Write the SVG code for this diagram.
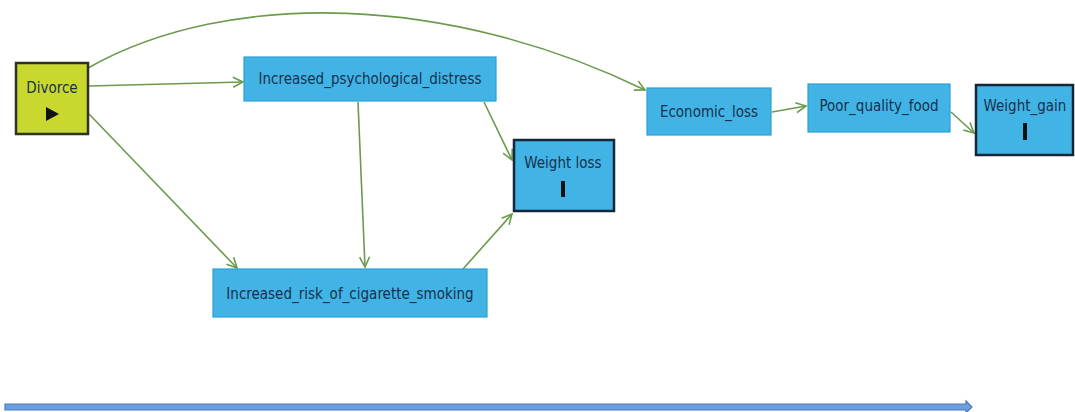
<svg xmlns="http://www.w3.org/2000/svg" width="1075" height="412" viewBox="0 0 1075 412">
  <style>
    .node { fill: #41b4e5; stroke: #2c9fd6; stroke-width: 1.2; }
    .outcome { fill: #41b4e5; stroke: #16263a; stroke-width: 2.5; }
    .exposure { fill: #c9d82f; stroke: #2c3320; stroke-width: 2.5; }
    .label { font-family: "DejaVu Sans Condensed", "DejaVu Sans", sans-serif; font-size: 15px; fill: #17304e; text-anchor: middle; }
    .edge { fill: none; stroke: #6b9a4e; stroke-width: 1.6; marker-end: url(#chev); }
  </style>
  <defs>
    <marker id="chev" viewBox="0 0 12 12" refX="11" refY="6" markerWidth="12" markerHeight="12" markerUnits="userSpaceOnUse" orient="auto">
      <path d="M1,1 L11,6 L1,11" fill="none" stroke="#6b9a4e" stroke-width="1.6"/>
    </marker>
  </defs>
  <rect width="1075" height="412" fill="#ffffff"/>

  <g id="connectors">
    <path class="edge" d="M88,68 C230,-12 450,-5 645,90"/>
    <path class="edge" d="M89,86 L243,82"/>
    <path class="edge" d="M89,114 L237,268"/>
    <path class="edge" d="M484,102 L512,160"/>
    <path class="edge" d="M358,102 L365,267"/>
    <path class="edge" d="M463,269 L512,214"/>
    <path class="edge" d="M772,112 L806,106"/>
    <path class="edge" d="M951,112 L974,133"/>
  </g>

  <g id="divorce">
    <rect class="exposure" x="16" y="63" width="72" height="71"/>
    <text class="label" x="52" y="93">Divorce</text>
    <path d="M46,107 L59,114 L46,121 Z" fill="#111"/>
  </g>

  <g id="psych-distress">
    <rect class="node" x="244" y="57" width="252" height="44"/>
    <text class="label" x="370" y="84">Increased_psychological_distress</text>
  </g>

  <g id="cigarette-smoking">
    <rect class="node" x="213" y="269" width="274" height="48"/>
    <text class="label" x="350" y="299">Increased_risk_of_cigarette_smoking</text>
  </g>

  <g id="weight-loss">
    <rect class="outcome" x="514" y="140" width="100" height="71"/>
    <text class="label" x="563" y="168">Weight loss</text>
    <rect x="561" y="181" width="4" height="16" fill="#111"/>
  </g>

  <g id="economic-loss">
    <rect class="node" x="647" y="88" width="124" height="47"/>
    <text class="label" x="709" y="117">Economic_loss</text>
  </g>

  <g id="poor-food">
    <rect class="node" x="808" y="84" width="142" height="48"/>
    <text class="label" x="879" y="111">Poor_quality_food</text>
  </g>

  <g id="weight-gain">
    <rect class="outcome" x="976" y="85" width="97" height="70"/>
    <text class="label" x="1025" y="111">Weight_gain</text>
    <rect x="1023" y="123" width="4" height="17" fill="#111"/>
  </g>

  <g id="timeline">
    <path d="M5,404 L966,404 L966,401 L972,407 L966,413 L966,410 L5,410 Z" fill="#6c9fe0" stroke="#4a78b8" stroke-width="1.2"/>
  </g>
</svg>
